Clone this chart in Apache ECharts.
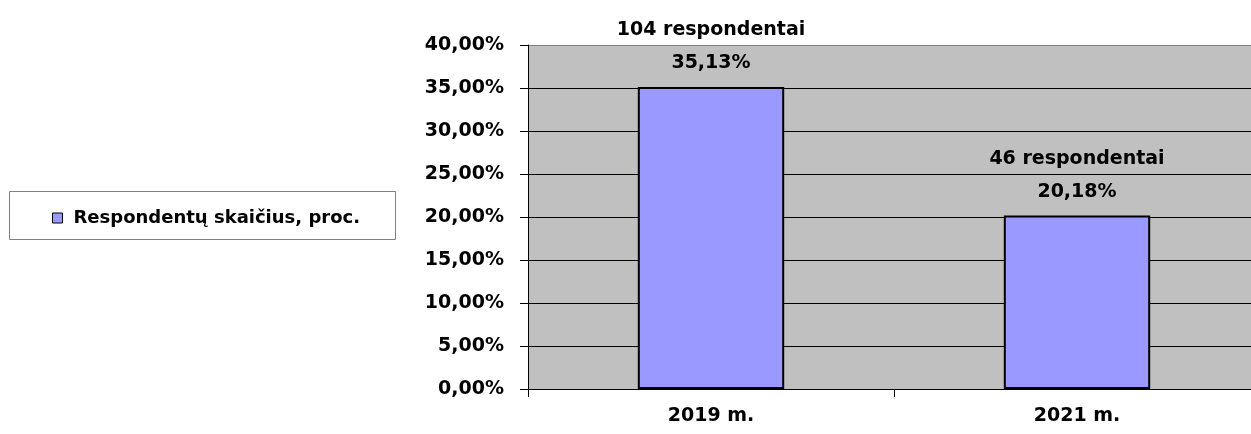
<!DOCTYPE html>
<html><head><meta charset="utf-8">
<script src="https://cdn.jsdelivr.net/npm/echarts@6/dist/echarts.min.js"></script>
<style>html,body{margin:0;padding:0;background:#fff;overflow:hidden;width:1251px;height:434px}#c{width:1260px;height:434px}</style>
</head><body><div id="c"></div>
<script>
var categories = ['2019 m.', '2021 m.'];
var percentValues = [35.13, 20.18];
var respondents = [104, 46];
var seriesName = 'Respondentų skaičius, proc.';
var yTicks = [0, 5, 10, 15, 20, 25, 30, 35, 40];

var FONT = '"DejaVu Sans"';
function pct(v){ return v.toFixed(2).replace('.', ',') + '%'; }

var chart = echarts.init(document.getElementById('c'), null, {renderer:'canvas'});
var splitColors = yTicks.map(function(t, i){ return i === yTicks.length - 1 ? '#808080' : '#000'; });
chart.setOption({
  animation: false,
  backgroundColor: '#fff',
  textStyle: {fontFamily: FONT},
  graphic: [{
    type: 'rect', left: 9, top: 191, shape: {width: 386, height: 48},
    style: {fill: '#fff', stroke: '#808080', lineWidth: 1}, z: 0
  }],
  legend: {
    left: 47, top: 204, itemWidth: 10, itemHeight: 10, itemGap: 0,
    icon: 'rect',
    textStyle: {fontFamily: FONT, fontWeight: 'bold', fontSize: 18, color: '#000', padding:[0,0,0,6]},
    data: [{name: seriesName, itemStyle: {color: '#9999ff', borderColor: '#000', borderWidth: 1}}]
  },
  grid: {left: 528, right: 0, top: 45, bottom: 45, show: true, backgroundColor: '#c0c0c0', borderWidth: 0},
  xAxis: {
    type: 'category', data: categories,
    axisLine: {lineStyle: {color: '#000', width: 1}},
    axisTick: {show: true, length: 8, lineStyle: {color: '#000'}},
    axisLabel: {fontFamily: FONT, fontWeight: 'bold', fontSize: 19, color: '#000', margin: 18}
  },
  yAxis: {
    type: 'value', min: 0, max: 40, interval: 5,
    axisLine: {show: true, lineStyle: {color: '#000'}},
    axisTick: {show: true, length: 8, lineStyle: {color: '#000'}},
    splitLine: {show: true, lineStyle: {color: splitColors, width: 1}},
    axisLabel: {fontFamily: FONT, fontWeight: 'bold', fontSize: 19, color: '#000', margin: 24, formatter: pct}
  },
  series: [{
    type: 'bar', name: seriesName, data: percentValues, barWidth: '40%',
    itemStyle: {color: '#9999ff', borderColor: '#000', borderWidth: 2},
    label: {
      show: true, position: 'top', distance: 7,
      formatter: function(p){ return respondents[p.dataIndex] + ' respondentai\n' + pct(p.value); },
      fontFamily: FONT, fontWeight: 'bold', fontSize: 19, color: '#000', lineHeight: 33
    }
  }]
});
</script></body></html>
